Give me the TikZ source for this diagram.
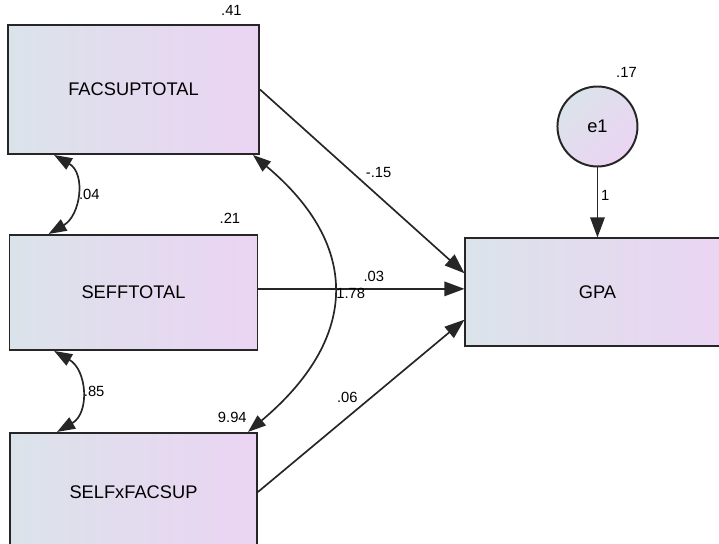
\documentclass[tikz,border=0pt]{standalone}
\usepackage{fontspec}
\setmainfont{Liberation Sans}
\usepackage{xcolor}
\usepackage{tikz}
\usetikzlibrary{arrows.meta, positioning, calc}
\definecolor{boxleft}{RGB}{219,227,234}
\definecolor{boxright}{RGB}{235,212,243}
\definecolor{edge}{RGB}{38,38,38}

\begin{document}
\begin{tikzpicture}[
    var/.style={rectangle, draw=edge, line width=1.4pt, left color=boxleft, right color=boxright, text centered, font=\fontsize{13}{15}\selectfont},
    err/.style={circle, draw=edge, line width=1.4pt, minimum size=2cm, left color=boxleft, right color=boxright, shading angle=45, font=\fontsize{13}{15}\selectfont},
    reg/.style={-{Triangle[length=0.5cm,width=0.36cm]}, line width=1.2pt, draw=edge},
    cov/.style={{Triangle[length=0.45cm,width=0.32cm]}-{Triangle[length=0.45cm,width=0.32cm]}, line width=1.2pt, draw=edge},
    est/.style={font=\fontsize{10.5}{12}\selectfont, inner sep=2pt},
    varlbl/.style={font=\fontsize{10.5}{12}\selectfont, inner sep=0pt}
]
    \useasboundingbox (0,0) rectangle (17.975,-13.6);

    % Predictors
    \node[var, minimum width=6.275cm, minimum height=3.225cm] (facsup) at (3.3375,-2.2375) {FACSUPTOTAL};
    \node[var, minimum width=6.2cm, minimum height=2.875cm, below=1.975cm of facsup] (seff) {SEFFTOTAL};
    \node[var, minimum width=6.175cm, minimum height=2.95cm, below=2.025cm of seff] (selfx) {SELFxFACSUP};

    % Outcome and error
    \node[var, minimum width=6.6cm, minimum height=2.7cm, right=5.15cm of seff] (gpa) {GPA};
    \node[err, above=1.75cm of gpa] (e1) {e1};

    % Variances
    \node[varlbl, above left=0.2cm and 0.45cm of facsup.north east] (v_facsup) {.41};
    \node[varlbl, above left=0.25cm and 0.45cm of seff.north east] (v_seff) {.21};
    \node[varlbl, above left=0.225cm and 0.275cm of selfx.north east] (v_selfx) {9.94};
    \node[varlbl, above=0.5cm of e1.north east] (v_e1) {.17};

    % Regression paths
    \draw[reg] (facsup.east) -- node[est, pos=0.5, above right] (b_facsup) {-.15} ([yshift=0.48cm]gpa.west);
    \draw[reg] ([yshift=0.09cm]seff.east) -- node[est, pos=0.56, above, yshift=0.08cm] (b_seff) {.03} ([yshift=0.09cm]seff.east -| gpa.west);
    \draw[reg] (selfx.east) -- node[est, pos=0.5, above left] (b_selfx) {.06} ([yshift=-0.68cm]gpa.west);
    \draw[reg] (e1.south) -- node[est, pos=0.4, right] (w_e1) {1} (gpa.north);

    % Covariances
    \draw[cov] ([xshift=1.175cm]facsup.south west) to[out=-30, in=30, looseness=1.2] node[est, right] (c_fs) {.04} ([xshift=1.0cm]seff.north west);
    \draw[cov] ([xshift=1.14cm]seff.south west) to[out=-30, in=30, looseness=1.2] node[est, right] (c_ss) {.85} ([xshift=1.2cm]selfx.north west);
    \draw[cov] ([xshift=-0.175cm]facsup.south east) to[out=-40, in=40, looseness=1.32] node[est, right] (c_fx) {1.78} ([xshift=-0.25cm]selfx.north east);

\end{tikzpicture}
\end{document}
